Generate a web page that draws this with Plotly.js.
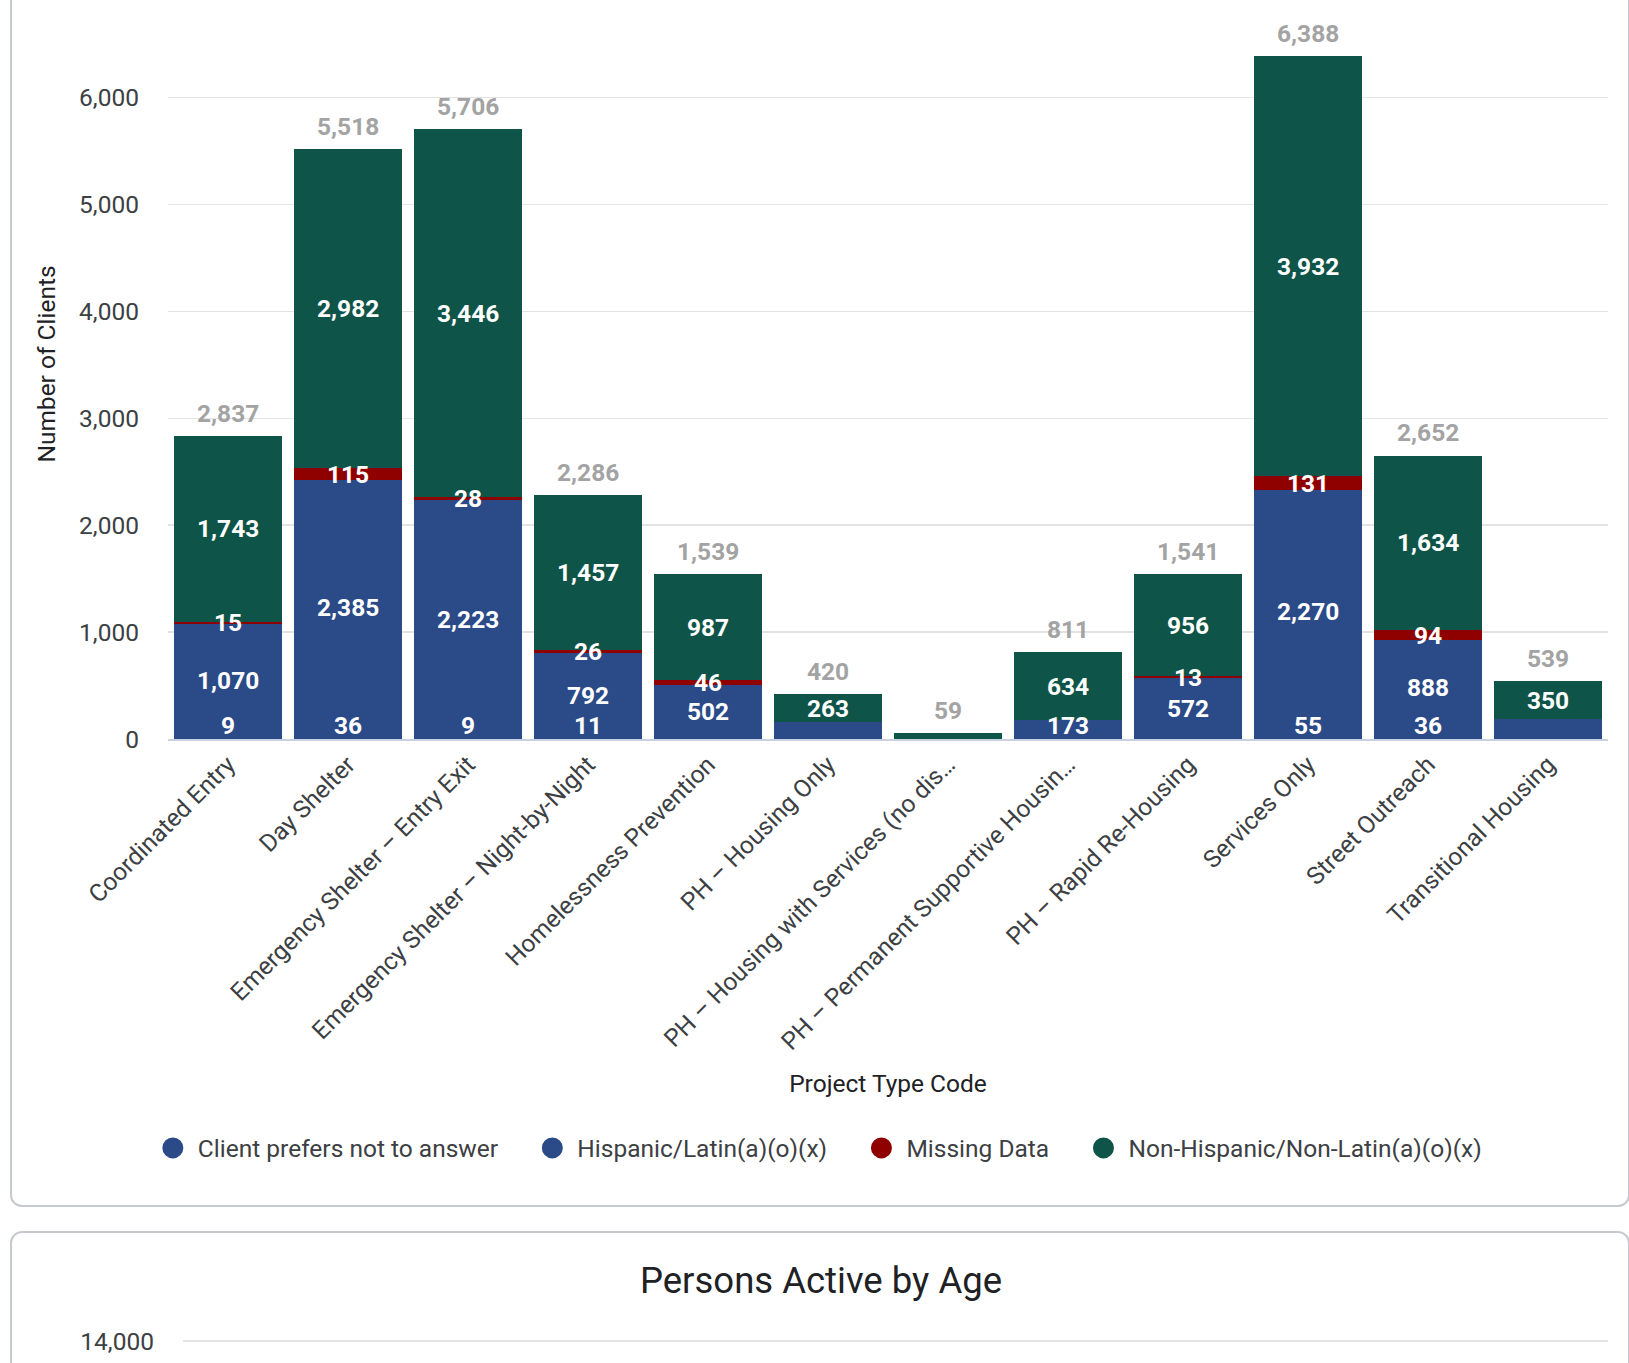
<!DOCTYPE html>
<html>
<head>
<meta charset="utf-8">
<script src="https://cdn.plot.ly/plotly-3.0.1.min.js"></script>
<style>
  html, body { margin:0; padding:0; background:#ffffff; width:1629px; height:1363px; overflow:hidden; font-family: Roboto, sans-serif; }
  .card { position:absolute; left:10px; width:1620px; border:2px solid #c6c9cd; border-radius:12px; box-sizing:border-box; background:#fff; }
  #card1 { top:-30px; height:1237px; }
  #card2 { top:1231px; height:600px; }
  #chart1 { position:absolute; left:0; top:-60px; width:1629px; height:1266px; }
  #chart2 { position:absolute; left:0; top:1231px; width:1629px; height:132px; }
</style>
</head>
<body>
<div class="card" id="card1"></div>
<div class="card" id="card2"></div>
<div id="chart1"></div>
<div id="chart2"></div>
<script>
// ---- data ----
const categories = [
  "Coordinated Entry",
  "Day Shelter",
  "Emergency Shelter – Entry Exit",
  "Emergency Shelter – Night-by-Night",
  "Homelessness Prevention",
  "PH – Housing Only",
  "PH – Housing with Services (no dis…",
  "PH – Permanent Supportive Housin…",
  "PH – Rapid Re-Housing",
  "Services Only",
  "Street Outreach",
  "Transitional Housing"
];
const clientPrefers = [9, 36, 9, 11, 4, 0, 0, 4, 0, 55, 36, 4];
const hispanic      = [1070, 2385, 2223, 792, 502, 157, 0, 173, 572, 2270, 888, 185];
const missingData   = [15, 115, 28, 26, 46, 0, 0, 0, 13, 131, 94, 0];
const nonHispanic   = [1743, 2982, 3446, 1457, 987, 263, 59, 634, 956, 3932, 1634, 350];
const seriesNames = ["Client prefers not to answer", "Hispanic/Latin(a)(o)(x)", "Missing Data", "Non-Hispanic/Non-Latin(a)(o)(x)"];
const seriesColors = ["#2b4a88", "#2b4a88", "#8f0000", "#0f5449"];
const yTicks = [0, 1000, 2000, 3000, 4000, 5000, 6000];
const ageTitle = "Persons Active by Age";
const age_yTicks = [0, 2000, 4000, 6000, 8000, 10000, 12000, 14000];

// ---- layout constants ----
const W = 1629, H1 = 1266;
const M1 = {l:168, r:21, t:49, b:467};
const plotH = H1 - M1.t - M1.b;      // 750 px
const upp = 1000 / 106.9;             // units per pixel
const yMax = plotH * upp;
const FONT = "Roboto, 'Open Sans', sans-serif";
const FS = 24.5;

const series = [clientPrefers, hispanic, missingData, nonHispanic];
const fmt = v => v.toLocaleString('en-US');
const PAD = '\u00a0\u00a0\u00a0\u00a0';

const traces = [];
series.forEach((vals, i) => {
  traces.push({
    type:'bar', x:categories, y:vals, name:seriesNames[i],
    marker:{color:seriesColors[i]}, showlegend:false, hoverinfo:'x+y+name'
  });
});
series.forEach((vals, i) => {
  traces.push({
    type:'scatter', mode:'markers', x:[null], y:[null], name:seriesNames[i] + PAD,
    marker:{color:seriesColors[i], size:16, symbol:'circle', line:{color:seriesColors[i], width:5}},
    showlegend:true, hoverinfo:'skip'
  });
});

// ---- labels with collision hiding ----
const annotations = [];
const minCenter = 14 * upp;
const totalOffset = 22.6 * upp;
const gap = 28 * upp;
categories.forEach((cat, ci) => {
  const placed = [];
  let cum = 0;
  const segs = [];
  series.forEach((vals, si) => {
    const v = vals[ci];
    if (v > 0) segs.push({v:v, y:Math.max(cum + v/2, minCenter)});
    cum += v;
  });
  const total = cum;
  annotations.push({x:cat, y:total + totalOffset, xref:'x', yref:'y', text:fmt(total), showarrow:false,
    yanchor:'middle', font:{family:FONT, size:FS, color:'#a3a3a3', weight:'bold'}});
  placed.push(total + totalOffset);
  segs.sort((a,b) => b.v - a.v).forEach(s => {
    if (placed.some(p => Math.abs(p - s.y) < gap)) return;
    placed.push(s.y);
    annotations.push({x:cat, y:s.y, xref:'x', yref:'y', text:fmt(s.v), showarrow:false,
      yanchor:'middle', font:{family:FONT, size:FS, color:'#ffffff', weight:'bold'}});
  });
});

const layout1 = {
  width:W, height:H1, margin:M1,
  paper_bgcolor:'rgba(0,0,0,0)', plot_bgcolor:'rgba(0,0,0,0)',
  font:{family:FONT, size:FS, color:'#3c4043'},
  barmode:'stack', bargap:0.1,
  xaxis:{type:'category', tickangle:-45, tickfont:{size:FS, color:'#3c4043'}, ticks:'',
    showline:true, linecolor:'#c9d1e2', linewidth:1.5, showgrid:false,
    title:{text:'Project Type Code', font:{size:FS, color:'#202124'}, standoff:20}},
  yaxis:{range:[0, yMax], tickvals:yTicks, ticktext:yTicks.map(fmt), showgrid:true, gridcolor:'#e3e3e3', gridwidth:1.5,
    zeroline:false, ticks:'', ticklabelstandoff:28, tickfont:{size:FS, color:'#3c4043'},
    title:{text:'Number of Clients', font:{size:FS, color:'#202124'}, standoff:16}},
  legend:{orientation:'h', x:-0.014, xanchor:'left', y:0, yanchor:'middle',
    font:{size:FS, color:'#3c4043'}, itemsizing:'trace', itemwidth:40, traceorder:'normal', bgcolor:'rgba(0,0,0,0)'},
  annotations:annotations,
  showlegend:true
};
// legend centre at page y 1148; plot bottom at page y 739
layout1.legend.y = -(1148 - 739) / plotH;
Plotly.newPlot('chart1', traces, layout1, {staticPlot:true, displayModeBar:false});

// second card: only its title and top gridline are inside the window
const H2 = 132;
const M2 = {l:183, r:21, t:107, b:0};
const plotH2 = H2 - M2.t - M2.b;
const upp2 = 14000 / 640;
const layout2 = {
  width:W, height:H2, margin:M2,
  paper_bgcolor:'rgba(0,0,0,0)', plot_bgcolor:'rgba(0,0,0,0)',
  font:{family:FONT, size:FS, color:'#3c4043'},
  title:{text:ageTitle, font:{size:36.5, color:'#202124'}, xref:'container', x:0.504, xanchor:'center',
    yref:'container', y:1 - 49/H2, yanchor:'middle'},
  xaxis:{visible:false, range:[0,1]},
  yaxis:{range:[14000 - (plotH2 - 3) * upp2, 14000 + 3 * upp2], tickvals:age_yTicks, ticktext:age_yTicks.map(fmt),
    showgrid:true, gridcolor:'#e3e3e3', gridwidth:1.5,
    zeroline:false, ticks:'', ticklabelstandoff:28, tickfont:{size:FS, color:'#3c4043'}},
  showlegend:false
};
Plotly.newPlot('chart2', [], layout2, {staticPlot:true, displayModeBar:false});
</script>
</body>
</html>
